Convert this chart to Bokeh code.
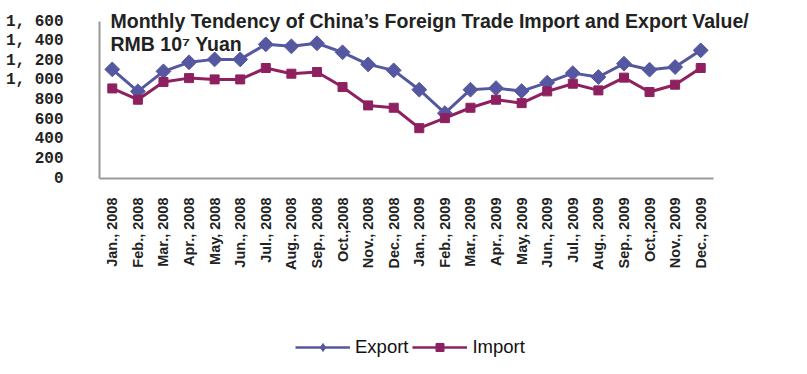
from math import pi
from bokeh.plotting import figure
from bokeh.layouts import column
from bokeh.models import Range1d, Label, Legend, LegendItem, FixedTicker
from bokeh.embed import file_html
from bokeh.resources import INLINE

months = ["Jan., 2008", "Feb., 2008", "Mar., 2008", "Apr., 2008", "May, 2008", "Jun., 2008",
          "Jul., 2008", "Aug., 2008", "Sep., 2008", "Oct.,2008", "Nov., 2008", "Dec., 2008",
          "Jan., 2009", "Feb., 2009", "Mar., 2009", "Apr., 2009", "May, 2009", "Jun., 2009",
          "Jul., 2009", "Aug., 2009", "Sep., 2009", "Oct.,2009", "Nov., 2009", "Dec., 2009"]

export_vals = [1112, 888, 1092, 1184, 1214, 1214, 1367, 1347, 1378, 1286, 1163, 1102,
               905, 666, 905, 921, 891, 977, 1074, 1034, 1170, 1109, 1136, 1306]
import_vals = [918, 803, 983, 1023, 1010, 1010, 1126, 1068, 1085, 932, 745, 721,
               513, 615, 721, 803, 768, 888, 966, 898, 1028, 881, 956, 1126]

y_ticks = [0, 200, 400, 600, 800, 1000, 1200, 1400, 1600]
y_tick_labels = ["0", "200", "400", "600", "800", "1, 000", "1, 200", "1, 400", "1, 600"]

title_line1 = "Monthly Tendency of China\u2019s Foreign Trade Import and Export Value/"
title_line2 = "RMB 10\u2077 Yuan"
series_names = ["Export", "Import"]

EXPORT_COLOR = "#5558A0"
IMPORT_COLOR = "#8E2060"

xs = list(range(len(months)))

W, H1, H2 = 791, 300, 58
K = 157 / 1600            # pixels per value unit
Y_LO, Y_HI = 0, 1600 + 21 / K
FRAME_BOTTOM = 178

# main frame: left 99, bottom 178, extends to the top and right edges of the canvas
p = figure(width=W, height=H1,
           x_range=Range1d(-0.5, -0.5 + (W - 99) / (614 / 24)),
           y_range=Range1d(Y_LO, Y_HI),
           output_backend="svg", toolbar_location=None,
           min_border_left=99, min_border_right=0, min_border_top=0,
           min_border_bottom=H1 - FRAME_BOTTOM)
p.background_fill_color = "white"
p.border_fill_color = "white"
p.outline_line_color = None
p.xgrid.grid_line_color = None
p.ygrid.grid_line_color = None

yax = p.yaxis[0]
yax.ticker = FixedTicker(ticks=y_ticks)
yax.bounds = (0, 1600)
yax.major_label_overrides = {t: l for t, l in zip(y_ticks, y_tick_labels)}
yax.major_label_text_font = "Liberation Mono"
yax.major_label_text_font_style = "bold"
yax.major_label_text_font_size = "16px"
yax.major_label_text_color = "#222222"
yax.major_label_standoff = 30
yax.major_tick_line_color = None
yax.minor_tick_line_color = None
yax.axis_line_color = "#999999"
yax.axis_line_width = 2

xax = p.xaxis[0]
xax.ticker = FixedTicker(ticks=xs)
xax.major_label_overrides = {i: m for i, m in zip(xs, months)}
xax.bounds = (-0.5, len(months) - 0.5)
xax.major_label_orientation = pi / 2
xax.major_label_text_font = "Liberation Sans"
xax.major_label_text_font_style = "bold"
xax.major_label_text_font_size = "14.5px"
xax.major_label_text_color = "#222222"
xax.major_label_standoff = 13
xax.major_tick_line_color = None
xax.minor_tick_line_color = None
xax.axis_line_color = "#999999"
xax.axis_line_width = 2

p.line(xs, export_vals, line_color=EXPORT_COLOR, line_width=3)
p.scatter(xs, export_vals, marker="square", angle=pi / 4, size=10.5,
          fill_color=EXPORT_COLOR, line_color=EXPORT_COLOR)
p.line(xs, import_vals, line_color=IMPORT_COLOR, line_width=3)
p.scatter(xs, import_vals, marker="square", size=9,
          fill_color=IMPORT_COLOR, line_color=IMPORT_COLOR)

for txt, yv in [(title_line1, 1603), (title_line2, 1366)]:
    p.add_layout(Label(x=-0.07, y=yv, text=txt, text_font="Liberation Sans",
                       text_font_style="bold", text_font_size="19.5px",
                       text_color="#222222", text_baseline="alphabetic"))

# legend strip below the chart (its series sit outside the visible ranges)
q = figure(width=W, height=H2, output_backend="svg", toolbar_location=None,
           x_range=Range1d(-100, -99), y_range=Range1d(-100, -99),
           x_axis_location=None, y_axis_location=None,
           min_border_left=0, min_border_right=0, min_border_top=0, min_border_bottom=0)
q.outline_line_color = None
q.xgrid.grid_line_color = None
q.ygrid.grid_line_color = None
le = q.line(xs, export_vals, line_color=EXPORT_COLOR, line_width=2.5)
ls = q.scatter(xs, export_vals, marker="diamond", size=13,
               fill_color=EXPORT_COLOR, line_color=EXPORT_COLOR)
li = q.line(xs, import_vals, line_color=IMPORT_COLOR, line_width=2.5)
lq = q.scatter(xs, import_vals, marker="square", size=8,
               fill_color=IMPORT_COLOR, line_color=IMPORT_COLOR)
legend = Legend(items=[LegendItem(label=series_names[0], renderers=[le, ls]),
                       LegendItem(label=series_names[1], renderers=[li, lq])],
                orientation="horizontal", location=(196, 0),
                glyph_width=55, glyph_height=20, label_standoff=5, spacing=4,
                padding=0, margin=0, border_line_color=None,
                background_fill_alpha=0,
                label_text_font="Liberation Sans", label_text_font_size="18.5px",
                label_text_color="#111111")
q.add_layout(legend, "center")

layout = column(p, q, spacing=0)
open("out.html", "w").write(file_html(layout, INLINE))
